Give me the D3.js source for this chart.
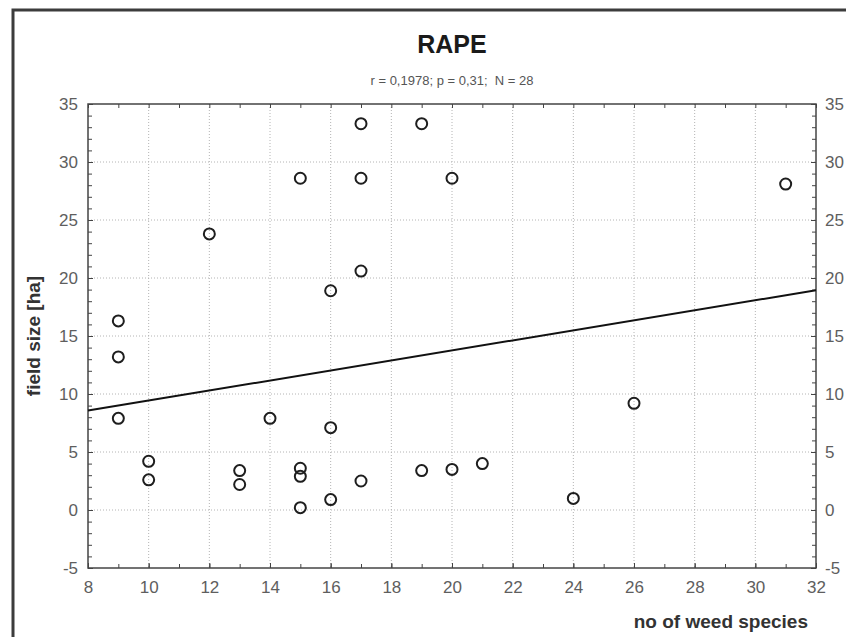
<!DOCTYPE html>
<html>
<head>
<meta charset="utf-8">
<script src="https://cdn.jsdelivr.net/npm/d3@7"></script>
<style>
  body { margin: 0; background: #fff; }
  svg { display: block; font-family: "Liberation Sans", Arial, sans-serif; }
</style>
</head>
<body>
<div id="chart"></div>
<script>
// weed species count vs field size, RAPE fields (N = 28)
const weedSpecies = [17, 19, 15, 17, 20, 12, 17, 16, 9, 9, 31, 9, 10, 10, 13, 13, 14,
                     15, 15, 15, 16, 16, 17, 19, 20, 21, 24, 26];
const fieldSize   = [33.3, 33.3, 28.6, 28.6, 28.6, 23.8, 20.6, 18.9, 16.3, 13.2, 28.1, 7.9, 4.2, 2.6, 3.4, 2.2, 7.9,
                     3.6, 2.9, 0.2, 7.1, 0.9, 2.5, 3.4, 3.5, 4.0, 1.0, 9.2];
const xTicks = [8, 10, 12, 14, 16, 18, 20, 22, 24, 26, 28, 30, 32];
const yTicks = [-5, 0, 5, 10, 15, 20, 25, 30, 35];
const titleText = 'RAPE';
const statsText = 'r = 0,1978; p = 0,31;  N = 28';
const xLabel = 'no of weed species';
const yLabel = 'field size [ha]';

const width = 846, height = 637;
const margin = {top: 104, right: 30, bottom: 69, left: 88};

const svg = d3.select('#chart').append('svg')
    .attr('width', width)
    .attr('height', height)
    .attr('viewBox', [0, 0, width, height]);

const x = d3.scaleLinear().domain([8, 32]).range([margin.left, width - margin.right]);
const y = d3.scaleLinear().domain([-5, 35]).range([height - margin.bottom, margin.top]);

// outer frame (runs off the right and bottom edges)
svg.append('rect')
    .attr('x', 13).attr('y', 10)
    .attr('width', 900).attr('height', 700)
    .attr('fill', 'none')
    .attr('stroke', '#3c3c3c')
    .attr('stroke-width', 3);

// grid
const grid = svg.append('g').attr('stroke', '#b4b4b4').attr('stroke-dasharray', '1,2');
grid.selectAll('.gx')
    .data(xTicks.slice(1, -1))
    .join('line')
    .attr('x1', d => x(d)).attr('x2', d => x(d))
    .attr('y1', y(35)).attr('y2', y(-5));
grid.selectAll('.gy')
    .data(yTicks.slice(1, -1))
    .join('line')
    .attr('x1', x(8)).attr('x2', x(32))
    .attr('y1', d => y(d)).attr('y2', d => y(d));

// minor ticks on all four sides, pointing inward
const minorX = d3.range(8, 33, 1);
const minorY = d3.range(-5, 36, 1);
const fmt = d => String(d);
function styleAxis(g) {
    g.select('.domain').remove();
    g.selectAll('.tick line').attr('stroke', '#444');
    g.selectAll('.tick text').attr('fill', '#5e5e5e').attr('font-size', 17);
}
svg.append('g').attr('transform', `translate(0,${y(-5)})`)
    .call(d3.axisBottom(x).tickValues(minorX).tickSize(-4).tickFormat(''))
    .call(styleAxis);
svg.append('g').attr('transform', `translate(0,${y(35)})`)
    .call(d3.axisTop(x).tickValues(minorX).tickSize(-4).tickFormat(''))
    .call(styleAxis);
svg.append('g').attr('transform', `translate(${x(8)},0)`)
    .call(d3.axisLeft(y).tickValues(minorY).tickSize(-4).tickFormat(''))
    .call(styleAxis);
svg.append('g').attr('transform', `translate(${x(32)},0)`)
    .call(d3.axisRight(y).tickValues(minorY).tickSize(-4).tickFormat(''))
    .call(styleAxis);

// labelled axes
svg.append('g').attr('transform', `translate(0,${y(-5)})`)
    .call(d3.axisBottom(x).tickValues(xTicks).tickSize(-5).tickPadding(13).tickFormat(fmt))
    .call(styleAxis);
svg.append('g').attr('transform', `translate(${x(8)},0)`)
    .call(d3.axisLeft(y).tickValues(yTicks).tickSize(-5).tickPadding(10).tickFormat(fmt))
    .call(styleAxis);
svg.append('g').attr('transform', `translate(${x(32)},0)`)
    .call(d3.axisRight(y).tickValues(yTicks).tickSize(-5).tickPadding(9).tickFormat(fmt))
    .call(styleAxis);

// plot border
svg.append('rect')
    .attr('x', x(8)).attr('y', y(35))
    .attr('width', x(32) - x(8)).attr('height', y(-5) - y(35))
    .attr('fill', 'none')
    .attr('stroke', '#444')
    .attr('stroke-width', 1.5);

// least squares fit line
const mx = d3.mean(weedSpecies), my = d3.mean(fieldSize);
const sxy = d3.sum(weedSpecies, (v, i) => (v - mx) * (fieldSize[i] - my));
const sxx = d3.sum(weedSpecies, v => (v - mx) ** 2);
const slope = sxy / sxx, intercept = my - slope * mx;
svg.append('line')
    .attr('x1', x(8)).attr('y1', y(intercept + slope * 8))
    .attr('x2', x(32)).attr('y2', y(intercept + slope * 32))
    .attr('stroke', '#111')
    .attr('stroke-width', 2);

// points
svg.append('g')
    .selectAll('circle')
    .data(weedSpecies.map((v, i) => [v, fieldSize[i]]))
    .join('circle')
    .attr('cx', d => x(d[0]))
    .attr('cy', d => y(d[1]))
    .attr('r', 5.5)
    .attr('fill', 'none')
    .attr('stroke', '#1e1e1e')
    .attr('stroke-width', 2);

// texts
const cx = (x(8) + x(32)) / 2;
svg.append('text')
    .attr('x', cx).attr('y', 53)
    .attr('text-anchor', 'middle')
    .attr('font-size', 25).attr('font-weight', 'bold')
    .attr('fill', '#1a1a1a')
    .text(titleText);
svg.append('text')
    .attr('x', cx).attr('y', 85)
    .attr('text-anchor', 'middle')
    .attr('font-size', 13)
    .attr('fill', '#555')
    .style('white-space', 'pre')
    .text(statsText);
svg.append('text')
    .attr('x', x(32) - 8).attr('y', 628)
    .attr('text-anchor', 'end')
    .attr('font-size', 19).attr('font-weight', 'bold')
    .attr('fill', '#333')
    .text(xLabel);
svg.append('text')
    .attr('transform', `translate(40,${(y(35) + y(-5)) / 2}) rotate(-90)`)
    .attr('text-anchor', 'middle')
    .attr('font-size', 19).attr('font-weight', 'bold')
    .attr('fill', '#333')
    .text(yLabel);
</script>
</body>
</html>
